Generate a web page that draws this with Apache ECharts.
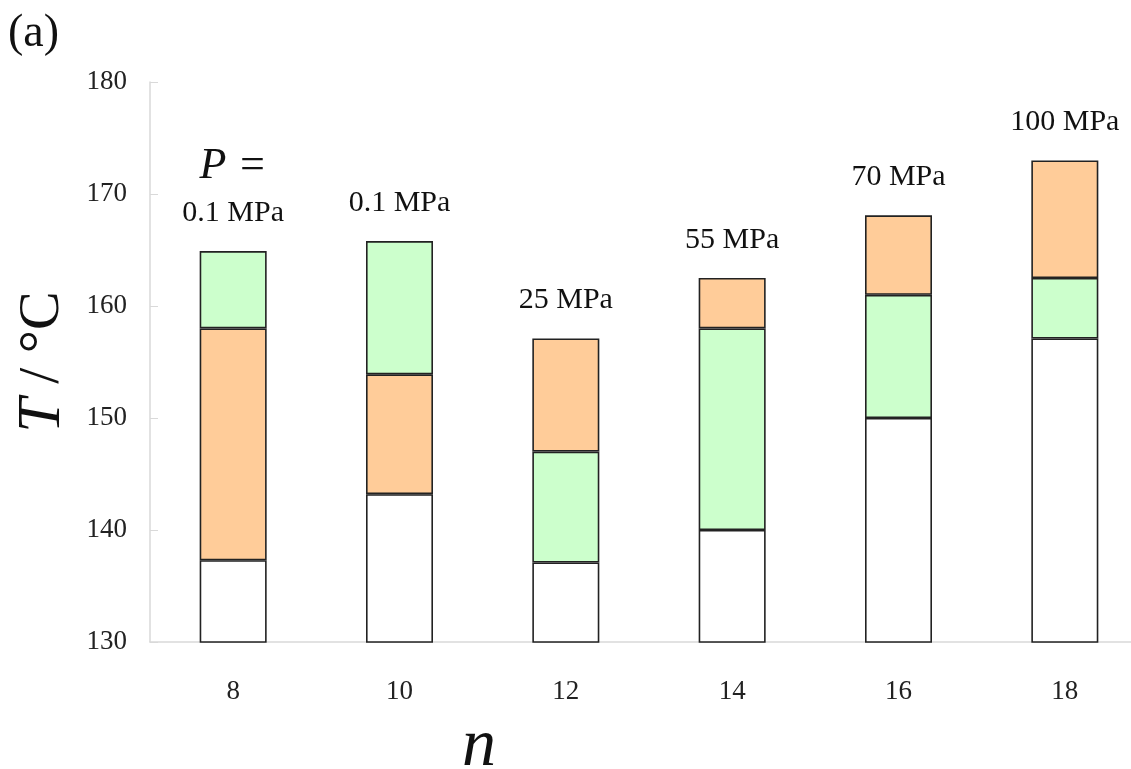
<!DOCTYPE html>
<html>
<head>
<meta charset="utf-8">
<script src="https://cdn.jsdelivr.net/npm/echarts@6/dist/echarts.min.js"></script>
<style>html,body{margin:0;padding:0;background:#fff;}#c{width:1131px;height:769px;}</style>
</head>
<body>
<div id="c"></div>
<script>
const categories = ['8', '10', '12', '14', '16', '18'];
const baseTop = [137.3, 143.2, 137.1, 140.0, 150.0, 157.1];
const midTop = [158.0, 153.9, 147.0, 158.0, 161.0, 162.5];
const barTop = [164.9, 165.8, 157.1, 162.5, 168.1, 173.0];
const midPhase = ['orange', 'orange', 'green', 'green', 'green', 'green'];
const pressureLabels = ['0.1 MPa', '0.1 MPa', '25 MPa', '55 MPa', '70 MPa', '100 MPa'];
const yTicks = [130, 140, 150, 160, 170, 180];

const ORANGE = '#FFCC99', GREEN = '#CCFFCC', EDGE = '#222222';
const other = p => (p === 'orange' ? 'green' : 'orange');
const col = p => (p === 'orange' ? ORANGE : GREEN);
const serif = '"Liberation Serif", "DejaVu Serif", serif';

const baseData = baseTop.map(v => ({ value: v, itemStyle: { color: '#ffffff' } }));
const midData = midTop.map((v, i) => ({ value: +(v - baseTop[i]).toFixed(2), itemStyle: { color: col(midPhase[i]) } }));
const topData = barTop.map((v, i) => ({
  value: +(v - midTop[i]).toFixed(2),
  itemStyle: { color: col(other(midPhase[i])) },
  label: { formatter: i === 0 ? '{p|P =}\n' + pressureLabels[i] : pressureLabels[i] }
}));

const common = {
  type: 'bar', stack: 'T', barWidth: 67,
  itemStyle: { borderColor: EDGE, borderWidth: 1.6 },
  emphasis: { disabled: true }, silent: true
};

const chart = echarts.init(document.getElementById('c'), null, { renderer: 'canvas' });
chart.setOption({
  animation: false,
  backgroundColor: '#ffffff',
  grid: { left: 150, top: 82, bottom: 127, right: -17, containLabel: false, outerBoundsMode: 'none' },
  xAxis: {
    type: 'category', data: categories,
    axisLine: { lineStyle: { color: '#d9d9d9', width: 1.5 } },
    axisTick: { inside: true, length: 8, lineStyle: { color: '#d9d9d9' } },
    axisLabel: { margin: 36, fontFamily: serif, fontSize: 27, color: '#222' }
  },
  yAxis: {
    type: 'value', min: yTicks[0], max: yTicks[yTicks.length - 1], interval: 10,
    name: '{i|T} / °C', nameLocation: 'middle', nameGap: 76, nameRotate: 90,
    nameTextStyle: {
      fontFamily: serif, fontSize: 58, color: '#111',
      rich: { i: { fontFamily: serif, fontStyle: 'italic', fontSize: 62, color: '#111' } }
    },
    axisLine: { show: true, lineStyle: { color: '#d9d9d9', width: 1.5 } },
    axisTick: { show: true, inside: true, length: 8, lineStyle: { color: '#d9d9d9' } },
    splitLine: { show: false },
    axisLabel: { margin: 23, fontFamily: serif, fontSize: 27, color: '#222' }
  },
  graphic: [
    { type: 'text', left: 8, top: 11, style: { text: '(a)', font: '46px "Liberation Serif", serif', fill: '#111' } },
    { type: 'text', left: 462, top: 713, style: { text: 'n', font: 'italic 68px "Liberation Serif", serif', fill: '#111' } }
  ],
  series: [
    Object.assign({}, common, { name: 'base', data: baseData }),
    Object.assign({}, common, { name: 'mid', data: midData }),
    Object.assign({}, common, {
      name: 'top', data: topData,
      label: {
        show: true, position: 'top', distance: 22,
        fontFamily: serif, fontSize: 30, color: '#111', lineHeight: 32,
        rich: { p: { fontFamily: serif, fontStyle: 'italic', fontSize: 44, lineHeight: 62, color: '#111' } }
      }
    })
  ]
});
</script>
</body>
</html>
